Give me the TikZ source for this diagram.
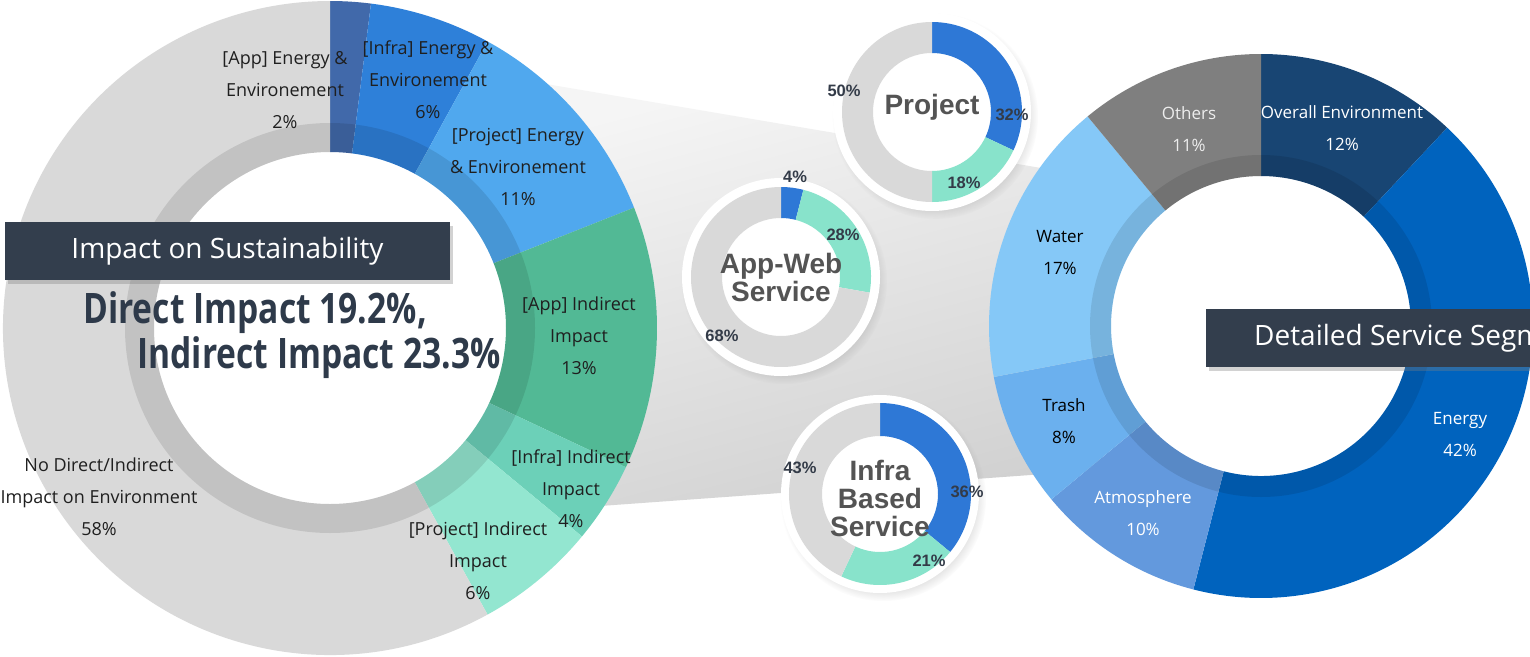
\documentclass[tikz,border=0pt]{standalone}
\usepackage{fontspec}
\setmainfont{Open Sans}
\newfontfamily\titlefont{Liberation Sans}
\newfontfamily\bigfont[FakeStretch=0.8]{Open Sans}
\usetikzlibrary{shadows}

\definecolor{appE}{RGB}{65,105,170}
\definecolor{infraE}{RGB}{46,128,217}
\definecolor{projE}{RGB}{80,168,238}
\definecolor{appI}{RGB}{82,185,149}
\definecolor{infraI}{RGB}{108,208,184}
\definecolor{projI}{RGB}{147,230,208}
\definecolor{noneC}{RGB}{217,217,217}
\definecolor{overallC}{RGB}{24,69,115}
\definecolor{energyC}{RGB}{0,99,190}
\definecolor{atmosC}{RGB}{99,153,221}
\definecolor{trashC}{RGB}{107,176,238}
\definecolor{waterC}{RGB}{133,200,247}
\definecolor{othersC}{RGB}{127,127,127}
\definecolor{smallBlue}{RGB}{46,120,214}
\definecolor{smallMint}{RGB}{136,227,203}
\definecolor{bannerC}{RGB}{51,62,77}
\definecolor{bigText}{RGB}{46,58,74}
\definecolor{pctText}{RGB}{51,59,72}

% one slice of a ring: centre, inner r, outer r, start, end, colour
\newcommand{\ringpart}[6]{%
  \fill[#6] ([shift={(#4:#3)}]#1) arc[start angle=#4, end angle=#5, radius=#3]
    -- ([shift={(#5:#2)}]#1) arc[start angle=#5, end angle=#4, radius=#2] -- cycle;}

\begin{document}
\begin{tikzpicture}[x=1pt, y=1pt,
    lbl/.style={align=center, text=black!88, font=\fontsize{18}{32}\selectfont},
    rlbl/.style={align=center, font=\fontsize{17}{32}\selectfont},
    pct/.style={text=pctText, font=\titlefont\bfseries\fontsize{16.5}{16}\selectfont},
    smalltitle/.style={align=center, text=black!67, font=\titlefont\bfseries\fontsize{28}{28}\selectfont},
    banner/.style={fill=bannerC, text=white, minimum height=58pt,
      font=\fontsize{28}{28}\selectfont,
      drop shadow={shadow xshift=3pt, shadow yshift=-4pt, opacity=0.35}},
    whitedisk/.style={fill=white, circular drop shadow={shadow xshift=3pt, shadow yshift=-4pt, shadow scale=1.04, opacity=0.3}}]

\useasboundingbox (0,0) rectangle (1530,-656);
\fill[white] (0,0) rectangle (1530,-656);

\coordinate (bigc) at (330,-328);
\coordinate (rightc) at (1261,-326);
\coordinate (projc) at (932,-112);
\coordinate (appc) at (781,-277);
\coordinate (infrac) at (880,-494);

% grey funnel behind the circles
\shade[top color=black!4, bottom color=black!18, shading angle=15]
  (540,-83) -- (1100,-178) -- (1100,-470) -- (600,-506) -- cycle;

% big ring
\foreach \s/\e/\c in {90/82.8/appE, 82.8/61.2/infraE, 61.2/21.6/projE,
    21.6/-25.2/appI, -25.2/-39.6/infraI, -39.6/-61.2/projI, -61.2/-270/noneC}
  \ringpart{bigc}{176}{327}{\s}{\e}{\c};
\fill[black, opacity=0.1, even odd rule] (bigc) circle (205) (bigc) circle (176);

% right ring
\foreach \s/\e/\c in {90/46.8/overallC, 46.8/-104.4/energyC, -104.4/-140.4/atmosC,
    -140.4/-169.2/trashC, -169.2/-230.4/waterC, -230.4/-270/othersC}
  \ringpart{rightc}{150}{272}{\s}{\e}{\c};
\fill[black, opacity=0.1, even odd rule] (rightc) circle (171) (rightc) circle (150);

% small rings
\fill[whitedisk] (projc) circle (99);
\fill[whitedisk] (appc) circle (99);
\fill[whitedisk] (infrac) circle (99);
\foreach \s/\e/\c in {90/-25.2/smallBlue, -25.2/-90/smallMint, -90/-270/noneC}
  \ringpart{projc}{59}{90}{\s}{\e}{\c};
\foreach \s/\e/\c in {90/75.6/smallBlue, 75.6/-10/smallMint, -10/-270/noneC}
  \ringpart{appc}{59}{90}{\s}{\e}{\c};
\foreach \s/\e/\c in {90/-39.6/smallBlue, -39.6/-115.2/smallMint, -115.2/-270/noneC}
  \ringpart{infrac}{58}{91}{\s}{\e}{\c};

% banners
\node[banner, minimum width=445pt] (sustBanner) at (227.5,-251) {Impact on Sustainability};
\node[banner, anchor=west, inner xsep=48pt] (segBanner) at (1206,-338) {Detailed Service Segmentation};

% centre text
\node[text=bigText, font=\bigfont\bfseries\fontsize{42}{42}\selectfont] (directTxt) at (255,-313) {Direct Impact 19.2\%,};
\node[text=bigText, font=\bigfont\bfseries\fontsize{42}{42}\selectfont] (indirectTxt) at (319,-358) {Indirect Impact 23.3\%};

% big ring labels
\node[lbl] (lAppE) at (285,-90) {[App] Energy \&\\Environement\\2\%};
\node[lbl] (lInfraE) at (428,-80) {[Infra] Energy \&\\Environement\\6\%};
\node[lbl] (lProjE) at (518,-167) {[Project] Energy\\\& Environement\\11\%};
\node[lbl] (lAppI) at (579,-336) {[App] Indirect\\Impact\\13\%};
\node[lbl] (lInfraI) at (571,-489) {[Infra] Indirect\\Impact\\4\%};
\node[lbl] (lProjI) at (478,-561) {[Project] Indirect\\Impact\\6\%};
\node[lbl] (lNone) at (99,-497) {No Direct/Indirect\\Impact on Environment\\58\%};

% right ring labels
\node[rlbl, text=white] (rOverall) at (1342,-128) {Overall Environment\\12\%};
\node[rlbl, text=black!7] (rOthers) at (1189,-129) {Others\\11\%};
\node[rlbl, text=black] (rWater) at (1060,-253) {Water\\17\%};
\node[rlbl, text=black] (rTrash) at (1064,-421) {Trash\\8\%};
\node[rlbl, text=white] (rAtmos) at (1143,-513) {Atmosphere\\10\%};
\node[rlbl, text=white] (rEnergy) at (1460,-435) {Energy\\42\%};

% small ring titles and values
\node[smalltitle] (projTitle) at (932,-107) {Project};
\node[smalltitle] (appTitle) at (781,-277) {App-Web\\Service};
\node[smalltitle] (infraTitle) at (880,-498) {Infra\\Based\\Service};
\node[pct] (p32) at (1012,-115) {32\%};
\node[pct] (p18) at (964,-183) {18\%};
\node[pct] (p50) at (844,-91) {50\%};
\node[pct] (a4) at (795,-177) {4\%};
\node[pct] (a28) at (843,-235) {28\%};
\node[pct] (a68) at (722,-336) {68\%};
\node[pct] (i43) at (800,-468) {43\%};
\node[pct] (i36) at (967,-492) {36\%};
\node[pct] (i21) at (929,-561) {21\%};

\end{tikzpicture}
\end{document}
